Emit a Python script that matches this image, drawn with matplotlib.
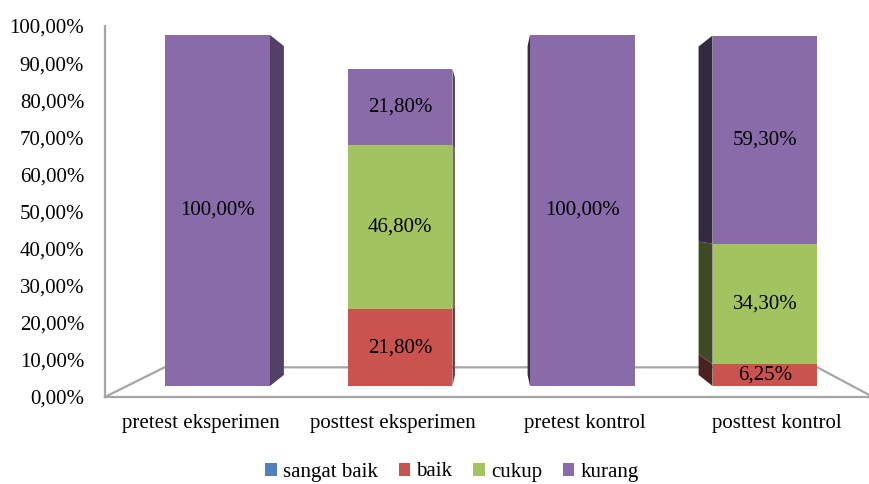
import matplotlib
matplotlib.use("Agg")
import matplotlib.pyplot as plt
from matplotlib.patches import Patch, Polygon
from matplotlib.colors import to_rgb

plt.rcParams["font.family"] = ["Liberation Serif", "DejaVu Serif"]

categories = ["pretest eksperimen", "posttest eksperimen", "pretest kontrol", "posttest kontrol"]
sangat_baik = [0, 0, 0, 0]
baik = [0, 21.8, 0, 6.25]
cukup = [0, 46.8, 0, 34.3]
kurang = [100, 21.8, 100, 59.3]
series_names = ["sangat baik", "baik", "cukup", "kurang"]
yticks = [0, 10, 20, 30, 40, 50, 60, 70, 80, 90, 100]

colors = ["#4F81BD", "#C8534F", "#A3C361", "#8A6BAA"]
grey = "#A6A6A6"
FS = 15

W, H = 869, 484
fig = plt.figure(figsize=(W / 100, H / 100), dpi=100)


def rect(left, top, right, bottom):
    # pixel box -> figure fraction
    return [left / W, 1 - bottom / H, (right - left) / W, (bottom - top) / H]


# back wall / floor axes carrying the ticks and category labels
ax_wall = fig.add_axes(rect(105, 26, 873, 397))
ax_wall.set_xlim(-0.5, 3.5)
ax_wall.set_ylim(0, 100)
ax_wall.patch.set_alpha(0)
for side in ("top", "right"):
    ax_wall.spines[side].set_visible(False)
for side in ("left", "bottom"):
    ax_wall.spines[side].set_color(grey)
    ax_wall.spines[side].set_linewidth(1.6)
ax_wall.set_yticks(yticks)
ax_wall.set_yticklabels([f"{v:.2f}%".replace(".", ",") for v in yticks], fontsize=FS)
ax_wall.set_xticks(range(len(categories)))
ax_wall.set_xticklabels(categories, fontsize=FS)
ax_wall.tick_params(axis="y", length=0, pad=15)
ax_wall.tick_params(axis="x", length=0, pad=12)

# floor outline (perspective)
floor_depth = 8.0
ax_wall.plot([-0.5, -0.19, 3.21, 3.5], [0, floor_depth, floor_depth, 0],
             color=grey, lw=1.6, clip_on=False, solid_joinstyle="miter")

# front axes for bar faces
ax = fig.add_axes(rect(126.25, 35, 856.25, 386))
ax.set_xlim(-0.5, 3.5)
ax.set_ylim(0, 100)
ax.axis("off")
ax.patch.set_alpha(0)

vp_x, vp_y, depth = 1.5, 50.0, 0.937
bar_w = 0.575


def back(px, py):
    return vp_x + depth * (px - vp_x), vp_y + depth * (py - vp_y)


def shade(c, f):
    r, g, b = to_rgb(c)
    return (r * f, g * f, b * f)


x = list(range(len(categories)))
bottoms = [0.0] * len(categories)
for name, vals, col in zip(series_names, [sangat_baik, baik, cukup, kurang], colors):
    ax.bar(x, vals, width=bar_w, bottom=bottoms, color=col, edgecolor="none", zorder=3)
    for xi, v, b0 in zip(x, vals, bottoms):
        if v <= 0:
            continue
        if xi < vp_x:
            ex, f = xi + bar_w / 2, 0.6
        else:
            ex, f = xi - bar_w / 2, 0.38
        pts = [(ex, b0), (ex, b0 + v), back(ex, b0 + v), back(ex, b0)]
        ax.add_patch(Polygon(pts, closed=True, facecolor=shade(col, f), edgecolor="none", zorder=2))
        ax.text(xi, b0 + v / 2, f"{v:.2f}%".replace(".", ","), ha="center", va="center",
                fontsize=FS, zorder=4)
    bottoms = [b + v for b, v in zip(bottoms, vals)]

handles = [Patch(facecolor=c, edgecolor="none") for c in colors]
fig.legend(handles, series_names, loc="center", bbox_to_anchor=(452 / W, 1 - 472 / H),
           ncol=4, frameon=False, fontsize=FS, handlelength=0.55, handleheight=0.6,
           handletextpad=0.3, columnspacing=1.0, borderpad=0)

fig.savefig("out.png", dpi=100)
